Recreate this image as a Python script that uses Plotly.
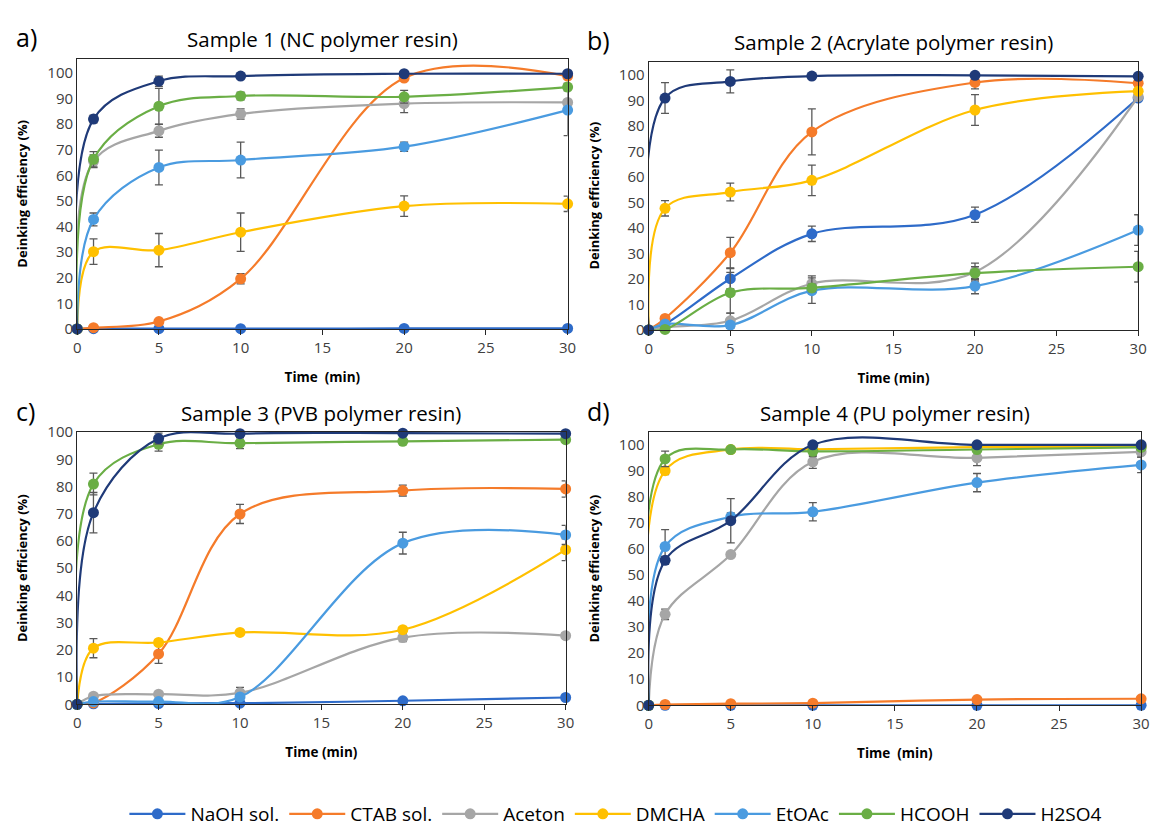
import plotly.graph_objects as go

W, H = 1161, 833

times = [0, 1, 5, 10, 20, 30]
series_names = ["NaOH sol.", "CTAB sol.", "Aceton", "DMCHA", "EtOAc", "HCOOH", "H2SO4"]
colors = ["#2E6BC9", "#F57B2A", "#A6A6A6", "#FFC000", "#4A9BE0", "#6AAE45", "#1F3A78"]

# Sample 1 (NC polymer resin)
s1_naoh = [0, 0.1, 0.1, 0.1, 0.2, 0.2]
s1_ctab = [0, 0.5, 2.9, 19.6, 98.0, 98.8]
s1_aceton = [0, 65.5, 77.4, 84.0, 88.0, 88.5]
s1_dmcha = [0, 30.2, 30.8, 37.8, 48.0, 48.9]
s1_etoac = [0, 42.8, 63.1, 66.0, 71.2, 85.5]
s1_hcooh = [0, 66.3, 87.0, 91.0, 90.7, 94.5]
s1_h2so4 = [0, 82.0, 96.8, 98.8, 99.7, 99.7]
s1_naoh_err = [0, 0, 0, 0, 0, 0]
s1_ctab_err = [0, 0.5, 0.8, 2.0, 1.0, 1.0]
s1_aceton_err = [0, 2.5, 2.5, 2.0, 3.5, 1.0]
s1_dmcha_err = [0, 5.0, 6.5, 7.5, 4.0, 3.0]
s1_etoac_err = [0, 2.5, 6.8, 7.0, 1.8, 10.0]
s1_hcooh_err = [0, 3.0, 7.0, 1.5, 2.5, 1.5]
s1_h2so4_err = [0, 1.5, 2.0, 0.5, 0.5, 0.5]

# Sample 2 (Acrylate polymer resin)
s2_naoh = [0, 2.3, 20.1, 37.7, 45.2, 91.0]
s2_ctab = [0, 4.5, 30.3, 77.7, 97.1, 96.8]
s2_aceton = [0, 1.0, 3.6, 18.2, 22.7, 91.5]
s2_dmcha = [0, 47.7, 54.1, 58.7, 86.3, 93.7]
s2_etoac = [0, 2.3, 1.9, 15.4, 17.2, 39.2]
s2_hcooh = [0, 0.2, 14.6, 16.5, 22.3, 24.8]
s2_h2so4 = [0, 91.0, 97.5, 99.6, 99.9, 99.5]
s2_naoh_err = [0, 0.5, 4.0, 3.0, 3.0, 1.0]
s2_ctab_err = [0, 1.0, 6.0, 9.0, 2.5, 1.0]
s2_aceton_err = [0, 0.5, 3.0, 3.0, 3.5, 1.5]
s2_dmcha_err = [0, 3.0, 3.5, 6.0, 6.0, 1.0]
s2_etoac_err = [0, 0.5, 1.0, 5.0, 3.0, 6.0]
s2_hcooh_err = [0, 0.3, 8.0, 1.5, 2.5, 6.0]
s2_h2so4_err = [0, 6.0, 4.5, 0.5, 0.5, 0.5]

# Sample 3 (PVB polymer resin)
s3_naoh = [0, 0.2, 0.3, 0.4, 1.3, 2.5]
s3_ctab = [0, 0.5, 18.5, 69.9, 78.5, 79.1]
s3_aceton = [0, 3.0, 3.7, 4.2, 24.5, 25.2]
s3_dmcha = [0, 20.6, 22.7, 26.4, 27.4, 56.8]
s3_etoac = [0, 1.0, 1.0, 2.7, 59.2, 62.2]
s3_hcooh = [0, 80.9, 95.5, 95.9, 96.6, 97.2]
s3_h2so4 = [0, 70.4, 97.6, 99.4, 99.6, 99.4]
s3_naoh_err = [0, 0, 0, 0, 0.3, 0.5]
s3_ctab_err = [0, 0.3, 3.5, 3.5, 2.0, 3.0]
s3_aceton_err = [0, 0.5, 0.5, 2.0, 1.5, 1.0]
s3_dmcha_err = [0, 3.5, 1.0, 1.0, 1.0, 4.0]
s3_etoac_err = [0, 0.5, 0.5, 1.0, 4.0, 3.5]
s3_hcooh_err = [0, 4.0, 2.5, 2.0, 1.0, 1.0]
s3_h2so4_err = [0, 7.4, 2.0, 0.5, 0.5, 0.5]

# Sample 4 (PU polymer resin)
s4_naoh = [0, 0.0, 0.0, 0.0, 0.0, 0.0]
s4_ctab = [0, 0.3, 0.6, 0.8, 2.2, 2.5]
s4_aceton = [0, 34.9, 57.8, 93.4, 94.9, 97.2]
s4_dmcha = [0, 90.0, 98.1, 98.2, 99.0, 99.2]
s4_etoac = [0, 60.9, 72.3, 74.2, 85.4, 92.2]
s4_hcooh = [0, 94.5, 98.1, 97.4, 98.1, 98.9]
s4_h2so4 = [0, 55.6, 70.8, 99.9, 99.9, 99.9]
s4_naoh_err = [0, 0, 0, 0, 0, 0]
s4_ctab_err = [0, 0.2, 0.3, 0.3, 0.5, 0.5]
s4_aceton_err = [0, 2.0, 1.0, 2.5, 3.0, 2.0]
s4_dmcha_err = [0, 1.5, 0.5, 0.5, 0.5, 0.5]
s4_etoac_err = [0, 6.5, 1.5, 3.5, 3.5, 3.0]
s4_hcooh_err = [0, 3.0, 0.5, 2.0, 0.5, 0.5]
s4_h2so4_err = [0, 1.5, 8.5, 0.5, 0.5, 0.5]

panels = [
    dict(vals=[s1_naoh, s1_ctab, s1_aceton, s1_dmcha, s1_etoac, s1_hcooh, s1_h2so4],
         errs=[s1_naoh_err, s1_ctab_err, s1_aceton_err, s1_dmcha_err, s1_etoac_err, s1_hcooh_err, s1_h2so4_err],
         title="Sample 1 (NC polymer resin)", letter="a)", xtitle="Time\u00a0\u00a0(min)",
         px=(74, 570), py=(49, 327), ymax=105.6),
    dict(vals=[s2_naoh, s2_ctab, s2_aceton, s2_dmcha, s2_etoac, s2_hcooh, s2_h2so4],
         errs=[s2_naoh_err, s2_ctab_err, s2_aceton_err, s2_dmcha_err, s2_etoac_err, s2_hcooh_err, s2_h2so4_err],
         title="Sample 2 (Acrylate polymer resin)", letter="b)", xtitle="Time (min)",
         px=(652, 1147), py=(52, 328), ymax=105.3),
    dict(vals=[s3_naoh, s3_ctab, s3_aceton, s3_dmcha, s3_etoac, s3_hcooh, s3_h2so4],
         errs=[s3_naoh_err, s3_ctab_err, s3_aceton_err, s3_dmcha_err, s3_etoac_err, s3_hcooh_err, s3_h2so4_err],
         title="Sample 3 (PVB polymer resin)", letter="c)", xtitle="Time (min)",
         px=(74, 568), py=(433, 713), ymax=100),
    dict(vals=[s4_naoh, s4_ctab, s4_aceton, s4_dmcha, s4_etoac, s4_hcooh, s4_h2so4],
         errs=[s4_naoh_err, s4_ctab_err, s4_aceton_err, s4_dmcha_err, s4_etoac_err, s4_hcooh_err, s4_h2so4_err],
         title="Sample 4 (PU polymer resin)", letter="d)", xtitle="Time\u00a0\u00a0(min)",
         px=(652, 1150), py=(433, 714), ymax=104.8),
]

FONT = "Open Sans, Noto Sans, sans-serif"
fig = go.Figure()
annotations = []

for i, p in enumerate(panels):
    k = "" if i == 0 else str(i + 1)
    xa, ya = "x" + k, "y" + k
    for j, name in enumerate(series_names):
        fig.add_trace(go.Scatter(
            x=times, y=p["vals"][j], name=name, xaxis=xa, yaxis=ya,
            mode="lines+markers", line=dict(color=colors[j], width=2.2, shape="spline", smoothing=1.0),
            marker=dict(color=colors[j], size=11),
            error_y=dict(type="data", array=p["errs"][j], visible=True, color="#595959", thickness=1.3, width=4),
            cliponaxis=False, legendgroup=name, showlegend=(i == 0),
        ))
    x0, x1 = p["px"]
    ytop, ybot = p["py"]
    fig.layout["xaxis" + k] = dict(
        domain=[x0 / W, x1 / W], range=[0, 30], anchor=ya, tickvals=[0, 5, 10, 15, 20, 25, 30],
        showline=True, mirror=True, linecolor="#262626", linewidth=1.2, ticks="outside", ticklen=5,
        tickcolor="#262626", showgrid=False, zeroline=False,
        tickfont=dict(family=FONT, size=15, color="#404040"),
        title=dict(text="<b>" + p["xtitle"] + "</b>", font=dict(family=FONT, size=13.5, color="#000"), standoff=16),
    )
    fig.layout["yaxis" + k] = dict(
        domain=[1 - ybot / H, 1 - ytop / H], range=[0, p["ymax"]], anchor=xa,
        tickvals=list(range(0, 101, 10)),
        showline=True, mirror=True, linecolor="#262626", linewidth=1.2, ticks="", showgrid=False,
        zeroline=False, tickfont=dict(family=FONT, size=15, color="#404040"),
        title=dict(text="<b>Deinking efficiency (%)</b>", font=dict(family=FONT, size=13, color="#000"), standoff=16),
    )
    annotations.append(dict(text=p["title"], x=(x0 + x1) / 2 / W, y=1 - (ytop - 20) / H, xref="paper", yref="paper",
                            showarrow=False, font=dict(family=FONT, size=20.5, color="#000"), xanchor="center", yanchor="middle"))
    annotations.append(dict(text=p["letter"], x=(x0 - 64) / W, y=1 - (ytop - 22) / H, xref="paper", yref="paper",
                            showarrow=False, font=dict(family=FONT, size=25, color="#000"), xanchor="left", yanchor="middle"))

fig.update_layout(
    width=W, height=H, margin=dict(l=0, r=0, t=0, b=0),
    paper_bgcolor="white", plot_bgcolor="white",
    annotations=annotations,
    legend=dict(orientation="h", x=0.533, xanchor="center", y=1 - 826 / H, yanchor="middle",
                font=dict(family="Open Sans, sans-serif", size=19, color="#000"),
                itemwidth=56, tracegroupgap=0),
)

fig.write_html("out.html")
